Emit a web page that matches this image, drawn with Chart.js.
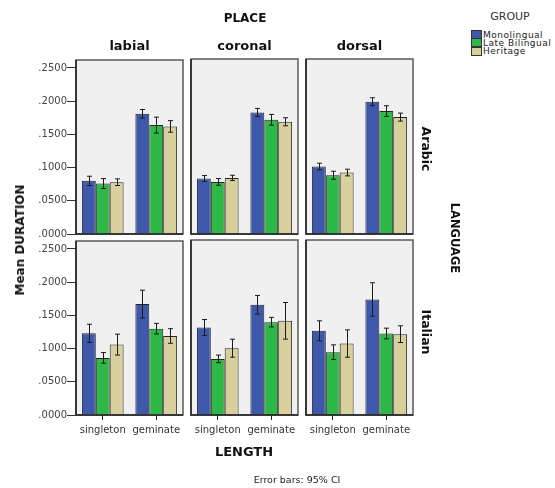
<!DOCTYPE html>
<html>
<head>
<meta charset="utf-8">
<script src="https://cdn.jsdelivr.net/npm/chart.js@4"></script>
<style>
  html, body { margin: 0; padding: 0; background: #fff; }
  #wrap { position: relative; width: 555px; height: 488px; overflow: hidden; background: #fff; }
  #wrap canvas { position: absolute; }
  .t { position: absolute; white-space: nowrap; color: #111; font-family: "DejaVu Sans", sans-serif; }
  .b { font-weight: bold; }
  .c { transform: translate(-50%, -50%); }
  .rl { transform: translate(-50%, -50%) rotate(-90deg); }
  .rr { transform: translate(-50%, -50%) rotate(90deg); }
  .sw { position: absolute; width: 9px; height: 7px; border: 1px solid #333; }
</style>
</head>
<body>
<div id="wrap"></div>
<script>
// Facet names
const placeNames = ['labial', 'coronal', 'dorsal'];
const languageNames = ['Arabic', 'Italian'];
const groupNames = ['Monolingual', 'Late Bilingual', 'Heritage'];
const lengthCategories = ['singleton', 'geminate'];
const yTickValues = [0, 0.05, 0.10, 0.15, 0.20, 0.25];
const yTickLabels = ['.0000', '.0500', '.1000', '.1500', '.2000', '.2500'];

// Mean duration, ordered labial (singleton, geminate), coronal (s, g), dorsal (s, g)
const arabicMonolingual   = [0.080, 0.181, 0.083, 0.182, 0.101, 0.198];
const arabicLateBilingual = [0.076, 0.164, 0.078, 0.171, 0.088, 0.184];
const arabicHeritage      = [0.078, 0.162, 0.084, 0.168, 0.092, 0.175];
const italianMonolingual   = [0.123, 0.167, 0.131, 0.165, 0.126, 0.173];
const italianLateBilingual = [0.086, 0.130, 0.084, 0.139, 0.094, 0.122];
const italianHeritage      = [0.106, 0.119, 0.100, 0.141, 0.107, 0.121];

// 95% CI half-widths, same ordering
const arabicMonolingualCI   = [0.0070, 0.0065, 0.0045, 0.0060, 0.0050, 0.0060];
const arabicLateBilingualCI = [0.0075, 0.0120, 0.0050, 0.0080, 0.0060, 0.0080];
const arabicHeritageCI      = [0.0050, 0.0087, 0.0040, 0.0060, 0.0050, 0.0060];
const italianMonolingualCI   = [0.0137, 0.0210, 0.0120, 0.0140, 0.0150, 0.0250];
const italianLateBilingualCI = [0.0080, 0.0080, 0.0057, 0.0072, 0.0110, 0.0080];
const italianHeritageCI      = [0.0157, 0.0110, 0.0135, 0.0274, 0.0205, 0.0125];

const groupColors = ['#3e58ac', '#2eb848', '#d8d09c'];

const meansByLanguage = [
  [arabicMonolingual, arabicLateBilingual, arabicHeritage],
  [italianMonolingual, italianLateBilingual, italianHeritage]
];
const ciByLanguage = [
  [arabicMonolingualCI, arabicLateBilingualCI, arabicHeritageCI],
  [italianMonolingualCI, italianLateBilingualCI, italianHeritageCI]
];

// Panel geometry
const panelLefts = [76, 191, 306];
const panelTops = [59, 240];
const panelW = 107, panelH = 175;
const padL = 60, padT = 5, padR = 5, padB = 30;
const yMax = 0.262;

const wrap = document.getElementById('wrap');

// Panel background, frame and 95% CI whiskers
const panelPlugin = {
  id: 'panel',
  beforeDraw(chart) {
    const a = chart.chartArea, ctx = chart.ctx;
    ctx.save();
    ctx.fillStyle = '#f0f0f0';
    ctx.fillRect(a.left, a.top, a.right - a.left, a.bottom - a.top);
    ctx.restore();
  },
  afterDatasetsDraw(chart) {
    const ctx = chart.ctx, y = chart.scales.y;
    const cis = chart.options.plugins.panel.ci;
    ctx.save();
    ctx.strokeStyle = '#1c1c1c';
    ctx.lineWidth = 1;
    chart.data.datasets.forEach((ds, di) => {
      const meta = chart.getDatasetMeta(di);
      meta.data.forEach((bar, i) => {
        const m = ds.data[i], e = cis[di][i];
        const x = Math.round(bar.x) + 0.5;
        const yt = y.getPixelForValue(m + e), yb = y.getPixelForValue(m - e);
        ctx.beginPath();
        ctx.moveTo(x, yt); ctx.lineTo(x, yb);
        ctx.moveTo(x - 2.5, yt); ctx.lineTo(x + 2.5, yt);
        ctx.moveTo(x - 2.5, yb); ctx.lineTo(x + 2.5, yb);
        ctx.stroke();
      });
    });
    ctx.restore();
  },
  afterDraw(chart) {
    const a = chart.chartArea, ctx = chart.ctx;
    ctx.save();
    ctx.strokeStyle = '#5a5a5a';
    ctx.lineWidth = 1.5;
    ctx.strokeRect(a.left, a.top, a.right - a.left, a.bottom - a.top);
    ctx.strokeStyle = '#222';
    ctx.lineWidth = 1.5;
    ctx.beginPath();
    ctx.moveTo(a.left, a.top); ctx.lineTo(a.left, a.bottom); ctx.lineTo(a.right, a.bottom);
    ctx.stroke();
    ctx.restore();
  }
};

languageNames.forEach((lang, r) => {
  placeNames.forEach((place, c) => {
    const cv = document.createElement('canvas');
    cv.width = panelW + padL + padR;
    cv.height = panelH + padT + padB;
    cv.style.left = (panelLefts[c] - padL) + 'px';
    cv.style.top = (panelTops[r] - padT) + 'px';
    wrap.appendChild(cv);

    const showY = c === 0;
    const showX = r === 1;
    const datasets = groupNames.map((g, gi) => ({
      label: g,
      data: meansByLanguage[r][gi].slice(c * 2, c * 2 + 2),
      backgroundColor: groupColors[gi],
      borderColor: '#262626',
      borderWidth: 1,
      borderSkipped: 'bottom',
      categoryPercentage: 0.78,
      barPercentage: 1.0
    }));
    const cis = ciByLanguage[r].map(arr => arr.slice(c * 2, c * 2 + 2));

    new Chart(cv, {
      type: 'bar',
      data: { labels: lengthCategories, datasets },
      options: {
        responsive: false,
        animation: false,
        devicePixelRatio: 1,
        layout: { padding: { top: padT, right: padR, left: 0, bottom: 0 } },
        plugins: {
          legend: { display: false },
          tooltip: { enabled: false },
          panel: { ci: cis }
        },
        scales: {
          x: {
            offset: true,
            border: { display: false },
            grid: {
              display: showX, offset: false, drawOnChartArea: false,
              drawTicks: true, tickLength: 5, color: '#222', lineWidth: 1
            },
            ticks: {
              display: showX, color: '#333', padding: 4,
              maxRotation: 0, minRotation: 0, autoSkip: false,
              font: { family: 'DejaVu Sans', size: 10 }
            },
            afterFit(s) { s.height = padB; }
          },
          y: {
            min: 0, max: yMax,
            border: { display: false },
            grid: {
              display: showY, drawOnChartArea: false, drawTicks: true,
              tickLength: 9, color: '#333', lineWidth: 1
            },
            ticks: {
              display: showY, color: '#444', padding: 0,
              font: { family: 'DejaVu Sans', size: 10 },
              callback: (v) => {
                const k = yTickValues.findIndex(t => Math.abs(t - v) < 1e-9);
                return k >= 0 ? yTickLabels[k] : '';
              }
            },
            afterBuildTicks(s) { s.ticks = yTickValues.map(v => ({ value: v })); },
            afterFit(s) { s.width = padL; }
          }
        }
      },
      plugins: [panelPlugin]
    });
  });
});

// Text labels
function addText(txt, x, y, cls, size, extra) {
  const d = document.createElement('div');
  d.className = 't ' + cls;
  d.textContent = txt;
  d.style.left = x + 'px';
  d.style.top = y + 'px';
  d.style.fontSize = size + 'px';
  if (extra) Object.assign(d.style, extra);
  wrap.appendChild(d);
  return d;
}
addText('PLACE', 245, 18, 'b c', 12);
placeNames.forEach((p, c) => addText(p, panelLefts[c] + panelW / 2, 45, 'b c', 13));
addText('Arabic', 426, 149, 'b rr', 12.5);
addText('Italian', 426, 332, 'b rr', 12.5);
addText('LANGUAGE', 455, 238, 'b rr', 11.5);
addText('Mean DURATION', 20, 240, 'b rl', 12);
addText('LENGTH', 244, 451, 'b c', 13);
addText('Error bars: 95% CI', 297, 479, 'c', 9.5, { color: '#222' });

// Legend
addText('GROUP', 510, 16, 'c', 11, { color: '#333' });
groupNames.forEach((g, gi) => {
  const y = 30 + gi * 8.3;
  const s = document.createElement('div');
  s.className = 'sw';
  s.style.left = '471px';
  s.style.top = y + 'px';
  s.style.background = groupColors[gi];
  wrap.appendChild(s);
  addText(g, 483, y + 4.5, '', 9, { color: '#222', letterSpacing: '0.5px', transform: 'translateY(-50%)', lineHeight: '9px' });
});
</script>
</body>
</html>
